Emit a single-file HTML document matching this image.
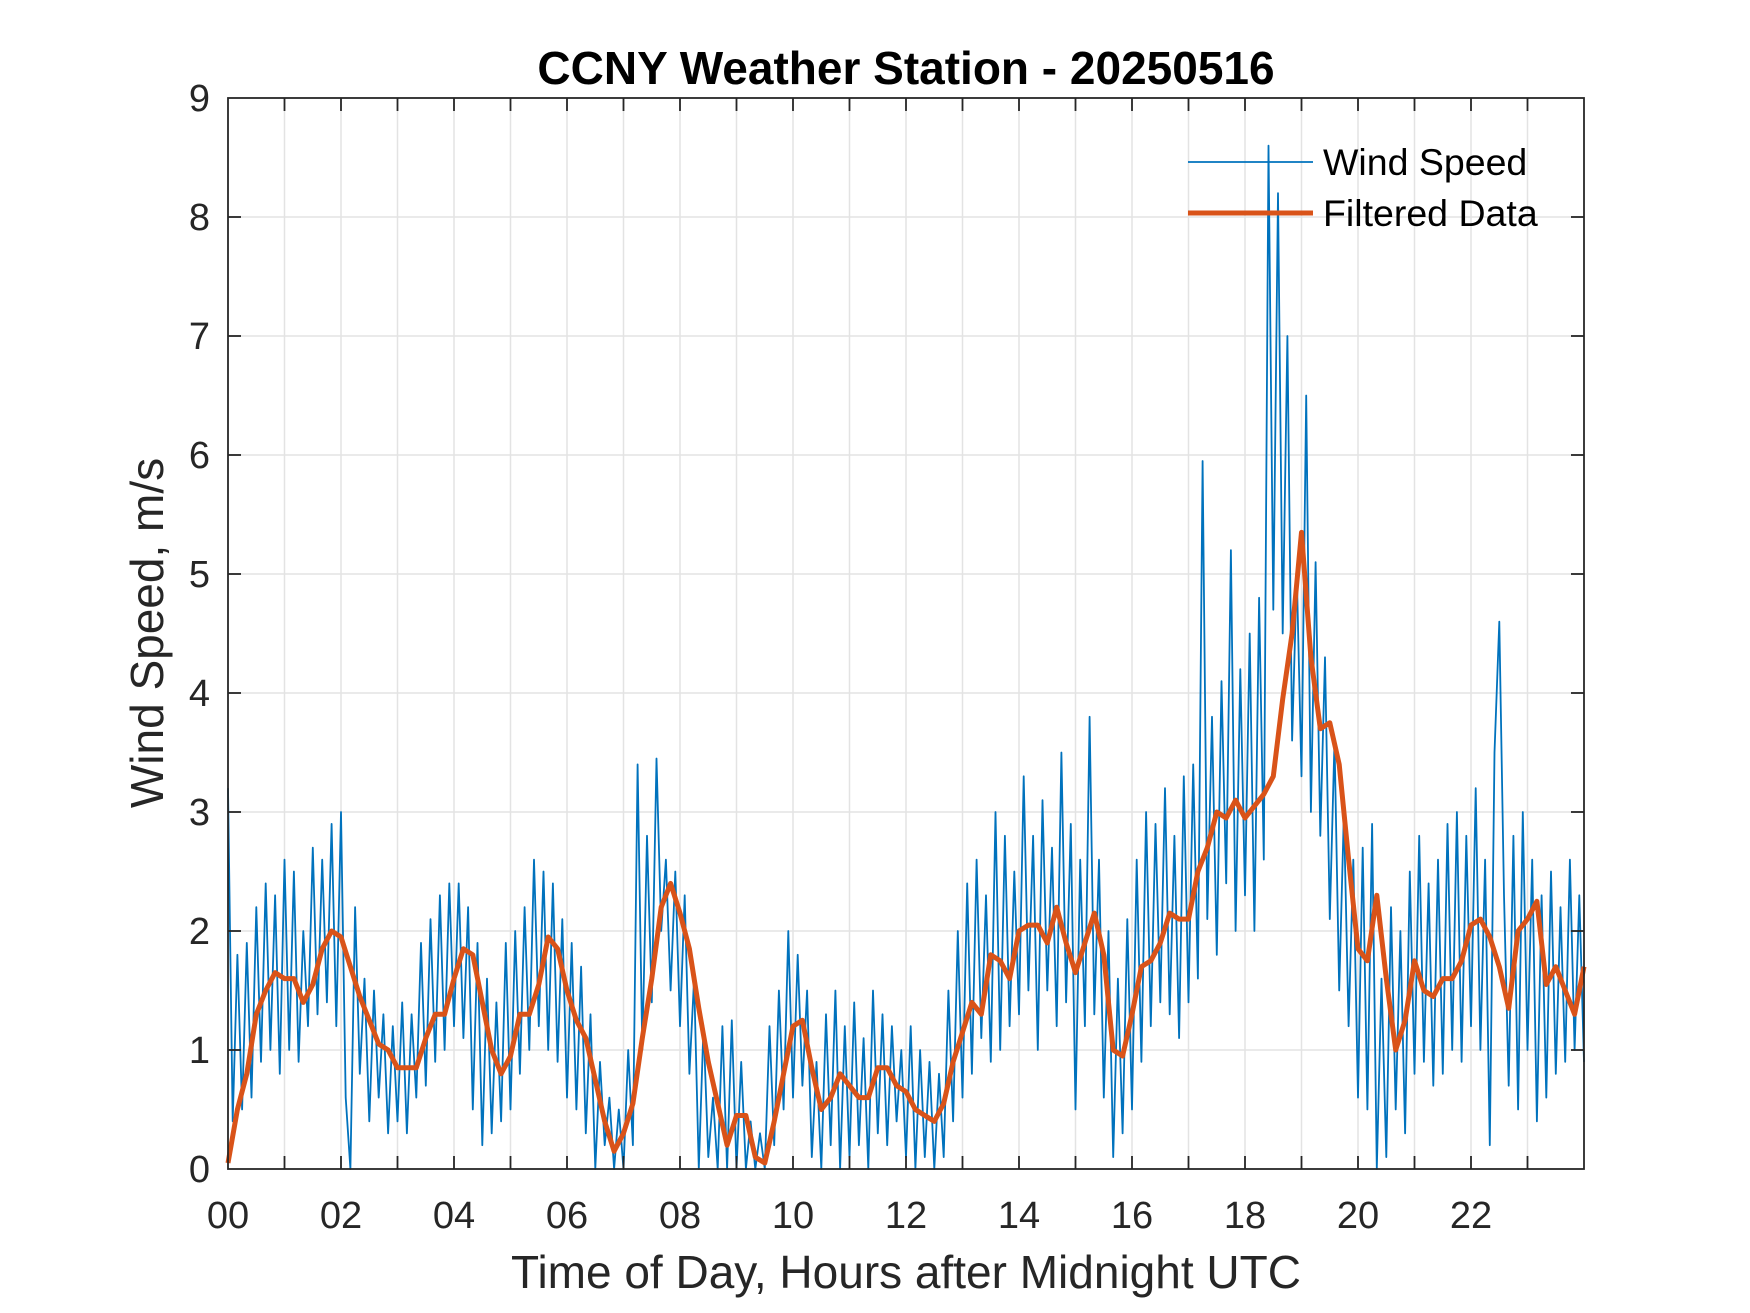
<!DOCTYPE html>
<html><head><meta charset="utf-8"><style>
html,body{margin:0;padding:0;background:#fff;}
svg{display:block;font-family:"Liberation Sans",Arial,sans-serif;}
</style></head><body>
<svg id="chart" width="1750" height="1313" viewBox="0 0 1750 1313" xmlns="http://www.w3.org/2000/svg">
<rect x="0" y="0" width="1750" height="1313" fill="#fff"/>
<g id="grid"></g>
<g id="series"></g>
<g id="axes"></g>
<text x="906" y="84" text-anchor="middle" font-size="46" font-weight="bold" fill="#000">CCNY Weather Station - 20250516</text>
<text x="906" y="1288" text-anchor="middle" font-size="46" fill="#262626">Time of Day, Hours after Midnight UTC</text>
<text transform="translate(163,633) rotate(-90)" text-anchor="middle" font-size="46" fill="#262626">Wind Speed, m/s</text>
<g>
<line x1="1188" y1="162" x2="1313" y2="162" stroke="#0072BD" stroke-width="1.8"/>
<text x="1323" y="175" font-size="37.5" fill="#000">Wind Speed</text>
<line x1="1188" y1="213" x2="1313" y2="213" stroke="#D95319" stroke-width="5"/>
<text x="1323" y="226" font-size="37.5" fill="#000">Filtered Data</text>
</g>
</svg>
<script>
const rawValues = [
3.2,0.4,1.8,0.5,1.9,0.6,2.2,0.9,2.4,1.0,2.3,0.8,
2.6,1.0,2.5,0.9,2.0,1.2,2.7,1.3,2.6,1.4,2.9,1.2,
3.0,0.6,0.0,2.2,0.8,1.6,0.4,1.5,0.6,1.3,0.3,1.2,
0.4,1.4,0.3,1.3,0.6,1.9,0.7,2.1,0.9,2.3,1.0,2.4,
1.2,2.4,1.1,2.2,0.5,1.9,0.2,1.6,0.3,1.4,0.4,1.9,
0.5,2.0,0.8,2.2,1.0,2.6,1.2,2.5,1.0,2.4,0.9,2.1,
0.6,1.9,0.5,1.7,0.3,1.3,0.0,0.9,0.2,0.6,0.0,0.5,
0.0,1.0,0.2,3.4,1.0,2.8,1.4,3.45,2.0,2.6,1.5,2.5,
1.2,2.3,0.8,1.6,0.0,1.2,0.1,0.6,0.0,1.2,0.0,1.25,
0.0,0.9,0.0,0.4,0.0,0.3,0.0,1.2,0.2,1.5,0.5,2.0,
0.6,1.8,0.7,1.5,0.1,0.9,0.0,1.3,0.2,1.5,0.0,1.2,
0.1,1.4,0.2,1.1,0.0,1.5,0.3,1.3,0.2,1.2,0.4,1.0,
0.1,1.2,0.0,1.0,0.1,0.9,0.0,0.8,0.1,1.5,0.4,2.0,
0.6,2.4,0.8,2.6,1.1,2.3,0.9,3.0,1.0,2.8,1.2,2.5,
1.3,3.3,1.5,2.8,1.0,3.1,1.5,2.7,1.2,3.5,1.4,2.9,
0.5,2.6,1.2,3.8,1.3,2.6,0.6,2.0,0.1,1.6,0.3,2.1,
0.5,2.6,0.9,3.0,1.2,2.9,1.4,3.2,1.3,2.8,1.1,3.3,
1.4,3.4,1.6,5.95,2.1,3.8,1.8,4.1,2.4,5.2,2.0,4.2,
2.3,4.5,2.0,4.8,2.6,8.6,4.7,8.2,4.5,7.0,3.6,5.0,
3.3,6.5,3.0,5.1,2.8,4.3,2.1,3.6,1.5,3.0,1.2,2.6,
0.6,2.7,0.5,2.9,0.0,1.6,0.1,2.2,0.5,2.0,0.3,2.5,
0.8,2.8,0.9,2.4,0.7,2.6,0.8,2.9,1.0,3.0,0.9,2.8,
1.2,3.2,1.0,2.6,0.2,3.5,4.6,2.3,0.7,2.8,0.5,3.0,
1.0,2.6,0.4,2.3,0.6,2.5,0.8,2.2,0.9,2.6,1.0,2.3,
0.9];
const rawStepHours = 5/60;
const filteredValues = [
0.05,0.5,0.8,1.3,1.5,1.65, 1.6,1.6,1.4,1.55,1.85,2.0,
1.95,1.7,1.45,1.25,1.05,1.0, 0.85,0.85,0.85,1.1,1.3,1.3,
1.6,1.85,1.8,1.4,1.0,0.8, 0.95,1.3,1.3,1.55,1.95,1.85,
1.5,1.25,1.1,0.75,0.4,0.15, 0.3,0.55,1.1,1.6,2.2,2.4,
2.15,1.85,1.35,0.9,0.55,0.2, 0.45,0.45,0.1,0.05,0.4,0.8,
1.2,1.25,0.85,0.5,0.6,0.8, 0.7,0.6,0.6,0.85,0.85,0.7,
0.65,0.5,0.45,0.4,0.55,0.9, 1.15,1.4,1.3,1.8,1.75,1.6,
2.0,2.05,2.05,1.9,2.2,1.9, 1.65,1.9,2.15,1.8,1.0,0.95,
1.3,1.7,1.75,1.9,2.15,2.1, 2.1,2.5,2.7,3.0,2.95,3.1,
2.95,3.05,3.15,3.3,3.95,4.5, 5.35,4.3,3.7,3.75,3.4,2.6,
1.85,1.75,2.3,1.6,1.0,1.25, 1.75,1.5,1.45,1.6,1.6,1.75,
2.05,2.1,1.95,1.7,1.35,2.0, 2.1,2.25,1.55,1.7,1.5,1.3,
1.7];
const filteredStepHours = 10/60;
const xTickLabels = ["00","02","04","06","08","10","12","14","16","18","20","22"];
const yTickLabels = ["0","1","2","3","4","5","6","7","8","9"];

const NS = "http://www.w3.org/2000/svg";
const L = 228, R = 1584, T = 98, B = 1169;
const xMax = 24, yMax = 9;
const xs = h => L + (h / xMax) * (R - L);
const ys = v => B - (v / yMax) * (B - T);
function mk(tag, attrs, parent) {
  const e = document.createElementNS(NS, tag);
  for (const k in attrs) e.setAttribute(k, attrs[k]);
  parent.appendChild(e);
  return e;
}
const grid = document.getElementById('grid');
const axes = document.getElementById('axes');
const series = document.getElementById('series');

for (let h = 1; h < xMax; h++) {
  const g = mk('line', {x1: xs(h), x2: xs(h), y1: T, y2: B, stroke: '#e3e3e3', 'stroke-width': 1.5}, grid);
  
  
}
for (let v = 1; v < yMax; v++) {
  const g = mk('line', {x1: L, x2: R, y1: ys(v), y2: ys(v), stroke: '#e3e3e3', 'stroke-width': 1.5}, grid);
  
  
}

function pathFrom(values, step) {
  return values.map((v, i) => (i ? 'L' : 'M') + xs(i * step).toFixed(1) + ' ' + ys(v).toFixed(1)).join(' ');
}
const raw = mk('path', {d: pathFrom(rawValues, rawStepHours), fill: 'none', stroke: '#0072BD', 'stroke-width': 1.8, 'stroke-linejoin': 'round'}, series);


const filt = mk('path', {d: pathFrom(filteredValues, filteredStepHours), fill: 'none', stroke: '#D95319', 'stroke-width': 5, 'stroke-linejoin': 'round'}, series);



const box = mk('rect', {x: L, y: T, width: R - L, height: B - T, fill: 'none', stroke: '#262626', 'stroke-width': 1.8}, axes);



for (let h = 1; h < xMax; h++) {
  const t1 = mk('line', {x1: xs(h), x2: xs(h), y1: B, y2: B - 13, stroke: '#262626', 'stroke-width': 1.8}, axes);
  
  
  const t2 = mk('line', {x1: xs(h), x2: xs(h), y1: T, y2: T + 13, stroke: '#262626', 'stroke-width': 1.8}, axes);
  
  
}
xTickLabels.forEach((lab, i) => {
  const t = mk('text', {x: xs(i * 2), y: 1228, 'text-anchor': 'middle', 'font-size': 38, fill: '#262626'}, axes);
  t.textContent = lab;
  
  
});
yTickLabels.forEach((lab, i) => {
  const v = Number(lab);
  if (v > 0 && v < yMax) {
    const a = mk('line', {x1: L, x2: L + 13, y1: ys(v), y2: ys(v), stroke: '#262626', 'stroke-width': 1.8}, axes);
    
    
    const b = mk('line', {x1: R, x2: R - 13, y1: ys(v), y2: ys(v), stroke: '#262626', 'stroke-width': 1.8}, axes);
    
    
  }
  const t = mk('text', {x: 210, y: ys(v) + 13, 'text-anchor': 'end', 'font-size': 38, fill: '#262626'}, axes);
  t.textContent = lab;
  
  
});
</script>
</body></html>
